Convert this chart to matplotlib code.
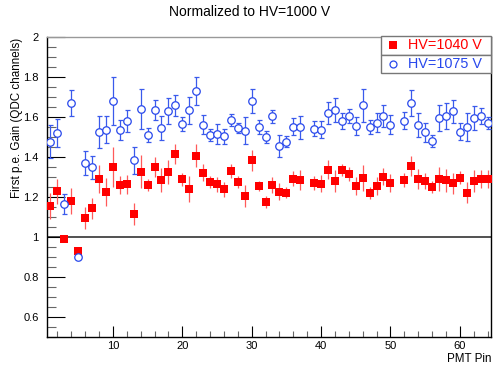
import matplotlib
matplotlib.use("Agg")
import matplotlib.pyplot as plt
from matplotlib.ticker import MultipleLocator, FormatStrFormatter
from matplotlib.patches import Rectangle
from matplotlib.lines import Line2D

plt.rcParams['font.family'] = ['Liberation Sans', 'DejaVu Sans']

pins = [1, 2, 3, 4, 5, 6, 7, 8, 9, 10, 11, 12, 13, 14, 15, 16, 17, 18, 19, 20,
        21, 22, 23, 24, 25, 26, 27, 28, 29, 30, 31, 32, 33, 34, 35, 36, 37, 39, 40,
        41, 42, 43, 44, 45, 46, 47, 48, 49, 50, 52, 53, 54, 55, 56, 57, 58, 59, 60,
        61, 62, 63, 64]

gain_1040 = [1.155, 1.228, 0.990, 1.180, 0.930, 1.096, 1.143, 1.289, 1.227, 1.348,
             1.258, 1.263, 1.116, 1.327, 1.258, 1.348, 1.285, 1.325, 1.415, 1.289,
             1.238, 1.406, 1.322, 1.275, 1.263, 1.238, 1.331, 1.277, 1.205, 1.384,
             1.255, 1.176, 1.260, 1.227, 1.222, 1.292, 1.284, 1.269, 1.267,
             1.336, 1.280, 1.336, 1.314, 1.255, 1.294, 1.222, 1.255, 1.302, 1.269,
             1.284, 1.353, 1.292, 1.280, 1.252, 1.289, 1.284, 1.269, 1.297,
             1.222, 1.280, 1.289, 1.289]
err_1040 = [0.065, 0.063, 0.015, 0.065, 0.012, 0.055, 0.053, 0.070, 0.070, 0.100,
            0.045, 0.046, 0.055, 0.084, 0.030, 0.050, 0.060, 0.060, 0.050, 0.033,
            0.065, 0.057, 0.042, 0.028, 0.037, 0.038, 0.035, 0.030, 0.054, 0.052,
            0.027, 0.030, 0.040, 0.042, 0.028, 0.038, 0.049, 0.035, 0.044,
            0.048, 0.055, 0.030, 0.034, 0.046, 0.065, 0.030, 0.044, 0.043, 0.044,
            0.036, 0.050, 0.050, 0.038, 0.030, 0.059, 0.057, 0.052, 0.032,
            0.052, 0.056, 0.044, 0.046]

gain_1075 = [1.477, 1.520, 1.163, 1.672, 0.899, 1.368, 1.348, 1.527, 1.537, 1.678,
             1.537, 1.579, 1.384, 1.638, 1.512, 1.633, 1.546, 1.628, 1.658, 1.566,
             1.633, 1.729, 1.561, 1.510, 1.515, 1.504, 1.586, 1.546, 1.532, 1.680,
             1.549, 1.499, 1.603, 1.456, 1.477, 1.552, 1.549, 1.541, 1.537,
             1.620, 1.636, 1.582, 1.603, 1.554, 1.658, 1.549, 1.571, 1.605, 1.562,
             1.582, 1.670, 1.561, 1.524, 1.479, 1.594, 1.603, 1.628, 1.527,
             1.549, 1.596, 1.605, 1.571]
err_1075 = [0.082, 0.070, 0.050, 0.065, 0.005, 0.060, 0.057, 0.080, 0.067, 0.120,
            0.050, 0.055, 0.067, 0.100, 0.035, 0.050, 0.060, 0.065, 0.054, 0.036,
            0.067, 0.070, 0.047, 0.028, 0.050, 0.038, 0.030, 0.025, 0.067, 0.061,
            0.034, 0.030, 0.033, 0.055, 0.028, 0.042, 0.057, 0.038, 0.042,
            0.055, 0.059, 0.040, 0.035, 0.045, 0.084, 0.034, 0.048, 0.053, 0.048,
            0.044, 0.065, 0.059, 0.048, 0.030, 0.065, 0.065, 0.059, 0.041,
            0.069, 0.061, 0.040, 0.030]

labels = ["HV=1040 V", "HV=1075 V"]
title = "Normalized to HV=1000 V"
xlabel = "PMT Pin"
ylabel = "First p.e. Gain (QDC channels)"

RED = "#ff0000"
BLUE = "#2848ec"

fig = plt.figure(figsize=(4.98, 3.68), dpi=100)
ax = fig.add_axes([47/498, 31/368, 444/498, 300/368])
ax.set_xlim(0.5, 64.5)
ax.set_ylim(0.5, 2.0)

ax.axhline(1.0, color="#333333", lw=1.2, zorder=1)

ax.errorbar(pins, gain_1040, yerr=err_1040, fmt='s', color=RED, ecolor="#ff5a5a",
            elinewidth=0.9, capsize=1.8, capthick=0.9, markersize=5.6,
            markeredgewidth=0, zorder=3)
ax.errorbar(pins, gain_1075, yerr=err_1075, fmt='o', color=BLUE, ecolor="#3a5aec",
            elinewidth=0.9, capsize=1.8, capthick=0.9, markersize=5.4,
            markerfacecolor='white', markeredgecolor=BLUE, markeredgewidth=0.9,
            zorder=4)

ax.xaxis.set_major_locator(MultipleLocator(10))
ax.xaxis.set_minor_locator(MultipleLocator(2))
ax.yaxis.set_major_locator(MultipleLocator(0.2))
ax.yaxis.set_minor_locator(MultipleLocator(0.05))
ax.yaxis.set_major_formatter(FormatStrFormatter('%g'))
ax.tick_params(axis='both', which='both', direction='in', labelsize=8, top=False, right=False)
ax.tick_params(axis='y', which='major', length=13, width=0.8, pad=6)
ax.tick_params(axis='y', which='minor', length=6.5, width=0.8, color="#666666")
ax.tick_params(axis='x', which='major', length=8, width=0.8, pad=3)
ax.tick_params(axis='x', which='minor', length=4, width=0.8, color="#666666")
for s in ['left', 'bottom', 'right']:
    ax.spines[s].set_color('black')
    ax.spines[s].set_linewidth(1.0)
ax.spines['top'].set_color('#999999')
ax.spines['top'].set_linewidth(1.0)

fig.text(250/498, 1 - 12/368, title, ha='center', va='center', fontsize=10)
fig.text(491/498, 1 - 359/368, xlabel, ha='right', va='center', fontsize=8.4)
fig.text(17/498, 1 - 118/368, ylabel, ha='center', va='center', rotation=90, fontsize=8.4)

# legend boxes (two stacked rows)
bx0 = (381 - 47) / 444
bw = (491 - 381) / 444
rows = [(36, 54.5), (54.5, 73)]
series_style = [dict(marker='s', color=RED, mfc=RED, mec=RED, ms=5.3, mew=0),
                dict(marker='o', color=BLUE, mfc='white', mec=BLUE, ms=5.0, mew=0.9)]
text_colors = [RED, BLUE]
for (yt, yb), lab, st, tc in zip(rows, labels, series_style, text_colors):
    y0 = (337 - yb) / 300
    h = (yb - yt) / 300
    ax.add_patch(Rectangle((bx0, y0), bw, h, transform=ax.transAxes,
                           facecolor='white', edgecolor='#777777', lw=1.0,
                           zorder=10, clip_on=False))
    ym = y0 + h / 2
    ax.add_line(Line2D([(392.7 - 47) / 444], [ym], transform=ax.transAxes,
                       linestyle='none', zorder=11, clip_on=False, **st))
    ax.text((408 - 47) / 444, ym, lab, transform=ax.transAxes, color=tc,
            fontsize=10.4, ha='left', va='center', zorder=11)

fig.savefig("out.png", dpi=100)
